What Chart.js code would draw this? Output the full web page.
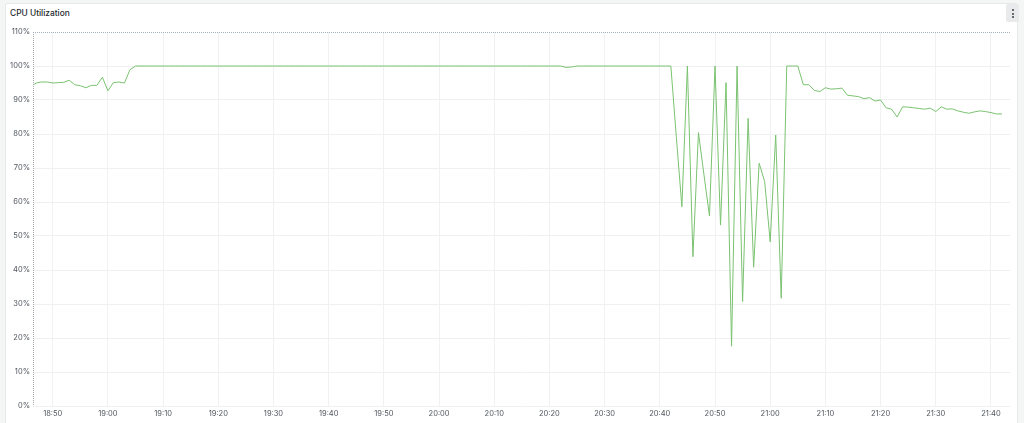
<!DOCTYPE html>
<html>
<head>
<meta charset="utf-8">
<script src="https://cdn.jsdelivr.net/npm/chart.js@4/dist/chart.umd.min.js"></script>
<style>
  html, body { margin: 0; padding: 0; }
  body { width: 1024px; height: 423px; background: #f4f5f5; position: relative; overflow: hidden; font-family: Inter, "Noto Sans", sans-serif; }
  #card { position: absolute; left: 5px; top: 3px; width: 1013px; height: 425px; background: #ffffff; border: 1px solid #e6e8ea; border-radius: 2px; box-sizing: border-box; }
  #title { position: absolute; left: 10px; top: 7px; font-size: 8.4px; font-weight: 500; color: #24292e; line-height: 12px; }
  #menu { position: absolute; left: 1006px; top: 4px; width: 13px; height: 18px; background: #e9eaeb; border-radius: 2px; }
  #menu span { position: absolute; left: 5.5px; width: 2px; height: 2px; border-radius: 1px; background: #3d434a; }
  #wrap { position: absolute; left: 0; top: 0; width: 1024px; height: 423px; }
</style>
</head>
<body>
<div id="card"></div>
<div id="title">CPU Utilization</div>
<div id="menu"><span style="top:5px"></span><span style="top:8.5px"></span><span style="top:12px"></span></div>
<div id="wrap"><canvas id="c" width="1024" height="423"></canvas></div>
<script>
// ---- data (one sample per minute, first sample at 18:46) ----
const firstMinute = 46;           // minutes after 18:00 of first sample
const axisStart = 46.43;          // visible window start (minutes after 18:00)
const axisEnd = 223.45;           // visible window end
const cpuPercent = [
  94.0, 95.0, 95.3, 95.3,                                        // 18:46-18:49
  95.0, 95.1, 95.2, 95.8, 94.5, 94.2, 93.6, 94.3, 94.3, 96.7,    // 18:50
  92.7, 95.1, 95.3, 95.0, 98.9, 100, 100, 100, 100, 100,         // 19:00
  100, 100, 100, 100, 100, 100, 100, 100, 100, 100,              // 19:10
  100, 100, 100, 100, 100, 100, 100, 100, 100, 100,              // 19:20
  100, 100, 100, 100, 100, 100, 100, 100, 100, 100,              // 19:30
  100, 100, 100, 100, 100, 100, 100, 100, 100, 100,              // 19:40
  100, 100, 100, 100, 100, 100, 100, 100, 100, 100,              // 19:50
  100, 100, 100, 100, 100, 100, 100, 100, 100, 100,              // 20:00
  100, 100, 100, 100, 100, 100, 100, 100, 100, 100,              // 20:10
  100, 100, 100, 99.6, 99.7, 100, 100, 100, 100, 100,            // 20:20
  100, 100, 100, 100, 100, 100, 100, 100, 100, 100,              // 20:30
  100, 100, 100, 79, 58.6, 100, 43.9, 80.4, 68, 55.9,            // 20:40
  100, 53.2, 95.1, 17.6, 100, 30.7, 84.6, 40.8, 71.4, 66.0,      // 20:50
  48.3, 79.7, 31.7, 100, 100, 100, 94.5, 94.5, 92.8, 92.5,       // 21:00
  93.6, 93.2, 93.3, 93.5, 91.4, 91.2, 91.0, 90.4, 90.7, 89.7,    // 21:10
  90.0, 87.7, 87.3, 85.0, 88.0, 87.9, 87.7, 87.5, 87.3, 87.6,    // 21:20
  86.6, 88.0, 87.3, 87.4, 86.8, 86.4, 86.1, 86.5, 86.8, 86.6,    // 21:30
  86.3, 85.9, 85.9                                               // 21:40
];
const xTickLabels = ['18:50','19:00','19:10','19:20','19:30','19:40','19:50','20:00','20:10',
                     '20:20','20:30','20:40','20:50','21:00','21:10','21:20','21:30','21:40'];
const yMin = 0, yMax = 110, yStep = 10;

function labelToMinutes(s) { const p = s.split(':'); return (parseInt(p[0], 10) - 18) * 60 + parseInt(p[1], 10); }
function minutesToLabel(m) { const h = 18 + Math.floor(m / 60); const mm = Math.round(m % 60); return h + ':' + (mm < 10 ? '0' : '') + mm; }

const points = cpuPercent.map((v, i) => ({ x: firstMinute + i, y: v }));

const frame = {
  id: 'frame',
  afterDraw(chart) {
    const { ctx, chartArea: a } = chart;
    ctx.save();
    ctx.lineWidth = 1;
    ctx.setLineDash([1, 1]);
    ctx.strokeStyle = '#a3b0c2';
    ctx.beginPath();
    ctx.moveTo(a.left, a.top + 0.5);
    ctx.lineTo(a.right, a.top + 0.5);
    ctx.stroke();
    ctx.strokeStyle = '#a6a8ab';
    ctx.beginPath();
    ctx.moveTo(a.left + 0.5, a.top);
    ctx.lineTo(a.left + 0.5, a.bottom);
    ctx.stroke();
    ctx.restore();
  }
};

new Chart(document.getElementById('c'), {
  type: 'line',
  data: {
    datasets: [{
      data: points,
      borderColor: 'rgb(122,194,112)',
      borderWidth: 1,
      pointRadius: 0,
      tension: 0,
      fill: false
    }]
  },
  options: {
    responsive: false,
    animation: false,
    events: [],
    layout: { padding: { left: 0, top: 32, right: 14, bottom: 0 } },
    plugins: { legend: { display: false }, tooltip: { enabled: false } },
    scales: {
      x: {
        type: 'linear',
        min: axisStart,
        max: axisEnd,
        afterBuildTicks(scale) { scale.ticks = xTickLabels.map(l => ({ value: labelToMinutes(l) })); },
        afterFit(scale) { scale.height = 17; },
        ticks: {
          autoSkip: false, maxRotation: 0, padding: 3,
          color: '#50565e',
          font: { family: 'Inter', size: 7.5 },
          callback: (v) => minutesToLabel(v)
        },
        grid: { color: '#f0f1f2', lineWidth: 1, drawTicks: false },
        border: { display: false }
      },
      y: {
        min: yMin,
        max: yMax,
        afterFit(scale) { scale.width = 33; },
        ticks: {
          stepSize: yStep, padding: 3,
          color: '#50565e',
          font: { family: 'Inter', size: 7.5 },
          callback: (v) => v + '%'
        },
        grid: {
          color: (c) => (c.tick && c.tick.value === yMax) ? 'rgba(0,0,0,0)' : '#eff0f1',
          lineWidth: 1, drawTicks: false
        },
        border: { display: false }
      }
    }
  },
  plugins: [frame]
});
</script>
</body>
</html>
